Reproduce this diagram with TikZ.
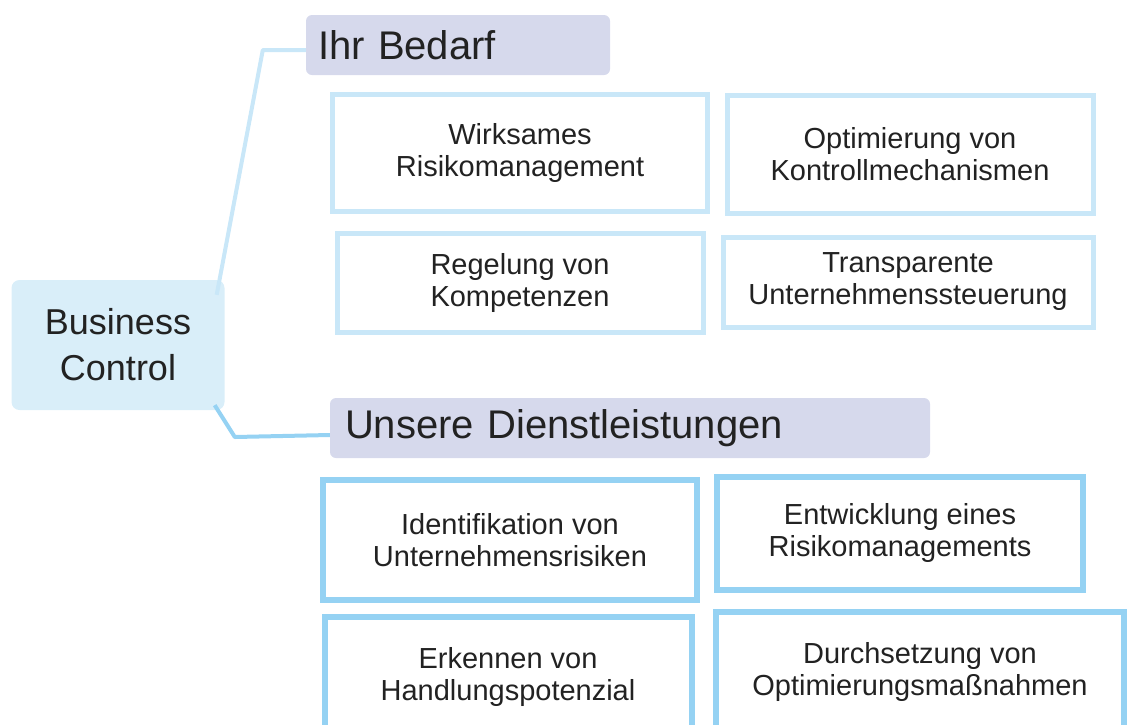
\documentclass[tikz,border=0pt]{standalone}
\usepackage{fontspec}
\setmainfont{Liberation Sans}
\definecolor{ink}{HTML}{222222}
\definecolor{lavender}{HTML}{D6D9EC}
\definecolor{paleblue}{HTML}{D9EEF9}
\definecolor{lightrim}{HTML}{C9E7F8}
\definecolor{deeprim}{HTML}{95D2F3}
\begin{document}
\begin{tikzpicture}[x=1pt,y=-1pt,
    needbox/.style={draw=lightrim,line width=5pt,fill=white,align=center,text=ink,
        font=\fontsize{29}{32}\selectfont},
    servicebox/.style={needbox,draw=deeprim,line width=6pt},
    header/.style={fill=lavender,rounded corners=6pt,align=left,text=ink,inner ysep=0pt,
        minimum height=60pt,font=\fontsize{40}{44}\selectfont},
    link/.style={line width=4pt,draw=lightrim,line join=round}]
            \useasboundingbox (0,0) rectangle (1128,724);
            \node[fill=paleblue,rounded corners=8pt,minimum width=213pt,minimum height=130pt,
                align=center,text=ink,font=\fontsize{36}{46}\selectfont] (bc) at (118,345) {Business\\Control};
            \node[header,text width=280pt,inner xsep=12pt] (bedarf) at (458,45) {Ihr Bedarf};
            \node[header,text width=570pt,inner xsep=15pt] (dienst) at (630,428) {Unsere Dienstleistungen};
            \node[needbox,minimum width=375pt,minimum height=117pt] (n1) at (520,153) {Wirksames\\Risikomanagement};
            \node[needbox,minimum width=366pt,minimum height=118pt] (n2) at (910,154) {Optimierung von\\Kontrollmechanismen};
            \node[needbox,minimum width=366pt,minimum height=99pt] (n3) at (520,283) {Regelung von\\Kompetenzen};
            \node[needbox,minimum width=370pt,minimum height=90pt] (n4) at (908,282) {Transparente\\Unternehmenssteuerung};
            \node[servicebox,minimum width=374pt,minimum height=120pt] (s1) at (510,540) {Identifikation von\\Unternehmensrisiken};
            \node[servicebox,minimum width=366pt,minimum height=113pt] (s2) at (900,533) {Entwicklung eines\\Risikomanagements};
            \node[servicebox,minimum width=367pt,minimum height=120pt] (s3) at (508,677) {Erkennen von\\Handlungspotenzial};
            \node[servicebox,minimum width=408pt,minimum height=120pt] (s4) at (920,672) {Durchsetzung von\\Optimierungsmaßnahmen};
            \draw[link]  ([xshift=-8pt,yshift=-15pt]bc.north east) -- ([xshift=-43pt,yshift=-5pt]bedarf.west) -- ([yshift=-5pt]bedarf.west);
            \draw[link,draw=deeprim]  ([xshift=-10pt,yshift=5pt]bc.south east) -- ([xshift=-95pt,yshift=-9pt]dienst.west) -- ([yshift=-7pt]dienst.west);
        \end{tikzpicture}
\end{document}
